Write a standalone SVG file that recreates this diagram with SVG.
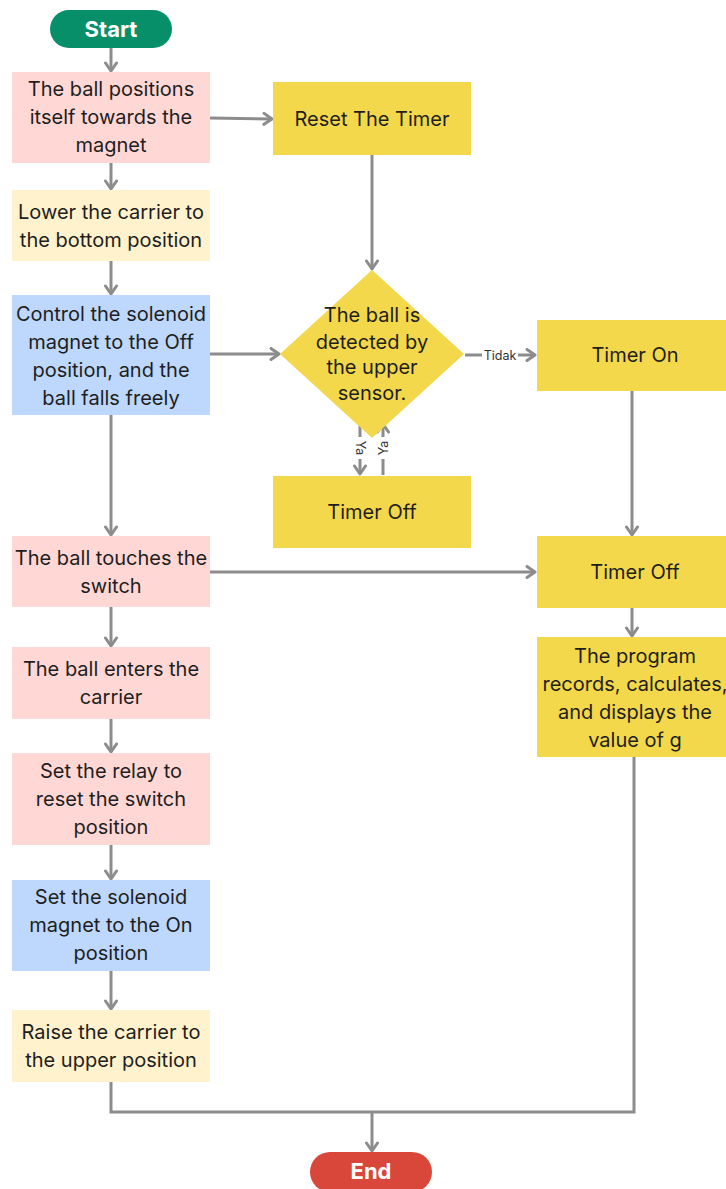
<svg xmlns="http://www.w3.org/2000/svg" width="726" height="1189" viewBox="0 0 726 1189">
<style>
.t{font-family:Inter,"Liberation Sans",sans-serif;font-size:20px;fill:#1e1e1e;text-anchor:middle;dominant-baseline:central}
.tb{font-family:Inter,"Liberation Sans",sans-serif;font-size:22px;font-weight:bold;fill:#fff;text-anchor:middle;dominant-baseline:central}
.lbl{font-family:Inter,"Liberation Sans",sans-serif;font-size:12.5px;fill:#333;text-anchor:middle;dominant-baseline:central}
.pink{fill:#ffd7d5}.cream{fill:#fff2cc}.blue{fill:#bdd7fd}.yel{fill:#f4d84b}
.c{fill:none;stroke:#8c8c8c;stroke-width:3}
</style>
<defs>
<marker id="ah" viewBox="0 0 14 14" refX="11" refY="7" markerWidth="14" markerHeight="14" orient="auto" markerUnits="userSpaceOnUse">
<path d="M3,1.5 L11,7 L3,12.5" fill="none" stroke="#8c8c8c" stroke-width="3" stroke-linecap="round" stroke-linejoin="round"/>
</marker>
</defs>
<rect width="726" height="1189" fill="#fff"/>
<g id="connectors">
<path class="c" d="M111,48 V71" marker-end="url(#ah)"/>
<path class="c" d="M111,163 V189" marker-end="url(#ah)"/>
<path class="c" d="M111,261 V294" marker-end="url(#ah)"/>
<path class="c" d="M111,415 V535" marker-end="url(#ah)"/>
<path class="c" d="M111,607 V646" marker-end="url(#ah)"/>
<path class="c" d="M111,719 V752" marker-end="url(#ah)"/>
<path class="c" d="M111,845 V879" marker-end="url(#ah)"/>
<path class="c" d="M111,971 V1009" marker-end="url(#ah)"/>
<path class="c" d="M210,118 L272,119" marker-end="url(#ah)"/>
<path class="c" d="M210,354 L279,354" marker-end="url(#ah)"/>
<path class="c" d="M372,155 V269" marker-end="url(#ah)"/>
<path class="c" d="M465,355 H535" marker-end="url(#ah)"/>
<path class="c" d="M360,424 V474" marker-end="url(#ah)"/>
<path class="c" d="M383,475 V424" marker-end="url(#ah)"/>
<path class="c" d="M632,391 V535" marker-end="url(#ah)"/>
<path class="c" d="M210,572 H535" marker-end="url(#ah)"/>
<path class="c" d="M632,608 V636" marker-end="url(#ah)"/>
<path class="c" d="M111,1082 V1112 H634 V757"/>
<path class="c" d="M372,1112 V1151" marker-end="url(#ah)"/>
<rect x="482" y="347" width="36" height="16" fill="#fff"/>
<text class="lbl" x="500" y="355">Tidak</text>
<rect x="352" y="437" width="16" height="22" fill="#fff"/>
<text class="lbl" x="360" y="448" transform="rotate(90 360 448)">Ya</text>
<rect x="375" y="437" width="16" height="22" fill="#fff"/>
<text class="lbl" x="383" y="448" transform="rotate(-90 383 448)">Ya</text>
</g>
<g id="start"><rect x="50" y="10" width="122" height="38" rx="19" fill="#068f69"/><text class="tb" x="111" y="29">Start</text></g>
<g id="n1"><rect class="pink" x="12" y="72" width="198" height="91"/><text class="t" x="111" y="89">The ball positions</text><text class="t" x="111" y="117">itself towards the</text><text class="t" x="111" y="145">magnet</text></g>
<g id="n2"><rect class="cream" x="12" y="190" width="198" height="71"/><text class="t" x="111" y="212">Lower the carrier to</text><text class="t" x="111" y="240">the bottom position</text></g>
<g id="n3"><rect class="blue" x="12" y="295" width="198" height="120"/><text class="t" x="111" y="314">Control the solenoid</text><text class="t" x="111" y="342">magnet to the Off</text><text class="t" x="111" y="370">position, and the</text><text class="t" x="111" y="398">ball falls freely</text></g>
<g id="reset"><rect class="yel" x="273" y="82" width="198" height="73"/><text class="t" x="372" y="119">Reset The Timer</text></g>
<g id="decision"><polygon class="yel" points="372,270 464,354 372,438 280,354"/><text class="t" x="372" y="315">The ball is</text><text class="t" x="372" y="342">detected by</text><text class="t" x="372" y="367">the upper</text><text class="t" x="372" y="393">sensor.</text></g>
<g id="timeroff1"><rect class="yel" x="273" y="476" width="198" height="72"/><text class="t" x="372" y="512">Timer Off</text></g>
<g id="timeron"><rect class="yel" x="537" y="320" width="189" height="71"/><text class="t" x="635" y="355">Timer On</text></g>
<g id="timeroff2"><rect class="yel" x="537" y="536" width="189" height="72"/><text class="t" x="635" y="572">Timer Off</text></g>
<g id="program"><rect class="yel" x="537" y="637" width="189" height="120"/><text class="t" x="635" y="656">The program</text><text class="t" x="635" y="684">records, calculates,</text><text class="t" x="635" y="712">and displays the</text><text class="t" x="635" y="740">value of g</text></g>
<g id="n4"><rect class="pink" x="12" y="536" width="198" height="71"/><text class="t" x="111" y="558">The ball touches the</text><text class="t" x="111" y="586">switch</text></g>
<g id="n5"><rect class="pink" x="12" y="647" width="198" height="72"/><text class="t" x="111" y="669">The ball enters the</text><text class="t" x="111" y="697">carrier</text></g>
<g id="n6"><rect class="pink" x="12" y="753" width="198" height="92"/><text class="t" x="111" y="771">Set the relay to</text><text class="t" x="111" y="799">reset the switch</text><text class="t" x="111" y="827">position</text></g>
<g id="n7"><rect class="blue" x="12" y="880" width="198" height="91"/><text class="t" x="111" y="897">Set the solenoid</text><text class="t" x="111" y="925">magnet to the On</text><text class="t" x="111" y="953">position</text></g>
<g id="n8"><rect class="cream" x="12" y="1010" width="198" height="72"/><text class="t" x="111" y="1032">Raise the carrier to</text><text class="t" x="111" y="1060">the upper position</text></g>
<g id="end"><rect x="310" y="1152" width="122" height="40" rx="20" fill="#d9473a"/><text class="tb" x="371" y="1171">End</text></g>
</svg>
